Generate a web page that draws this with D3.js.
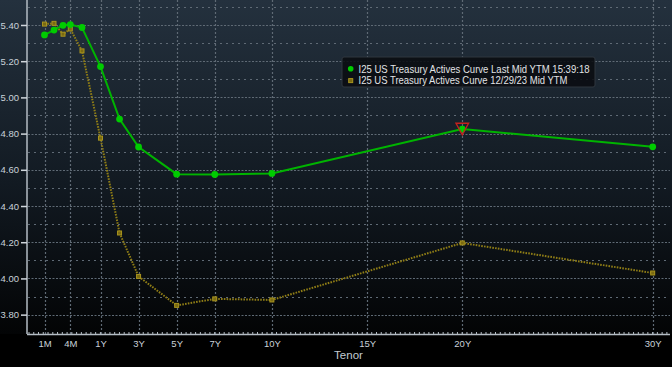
<!DOCTYPE html>
<html>
<head>
<meta charset="utf-8">
<script src="https://cdn.jsdelivr.net/npm/d3@7/dist/d3.min.js"></script>
<style>
  html, body { margin: 0; padding: 0; background: #000; }
  svg { display: block; }
  text { font-family: "Liberation Sans", Arial, sans-serif; }
</style>
</head>
<body>
<svg id="chart" width="672" height="367"></svg>
<script>
// ---- data ----
const tenors = ["1M","2M","3M","4M","6M","1Y","2Y","3Y","5Y","7Y","10Y","20Y","30Y"];
const tenorMonths = [1,2,3,4,6,12,24,36,60,84,120,240,360];
const currentYields = [5.345,5.372,5.398,5.402,5.386,5.170,4.880,4.726,4.576,4.574,4.580,4.825,4.727];
const priorYields   = [5.405,5.409,5.349,5.378,5.257,4.775,4.251,4.011,3.851,3.887,3.881,4.196,4.030];
const xTickLabels = ["1M","4M","1Y","3Y","5Y","7Y","10Y","15Y","20Y","30Y"];
const xTickMonths = [1,4,12,36,60,84,120,180,240,360];
const yTickValues = [3.80,4.00,4.20,4.40,4.60,4.80,5.00,5.20,5.40];
const yGridValues = [3.80,3.90,4.00,4.10,4.20,4.30,4.40,4.50,4.60,4.70,4.80,4.90,5.00,5.10,5.20,5.30,5.40,5.50];
const seriesNames = ["I25 US Treasury Actives Curve Last Mid YTM 15:39:18","I25 US Treasury Actives Curve 12/29/23 Mid YTM"];

// ---- layout ----
const W = 672, H = 367;
const plotLeft = 27, plotRight = 670, plotTop = 0, plotBottom = 334;

const svg = d3.select("#chart");

// background gradient
const defs = svg.append("defs");
const grad = defs.append("linearGradient").attr("id","bg").attr("x1",0).attr("y1",0).attr("x2",0).attr("y2",1);
grad.append("stop").attr("offset","0%").attr("stop-color","#24313e");
grad.append("stop").attr("offset","55%").attr("stop-color","#121a22");
grad.append("stop").attr("offset","100%").attr("stop-color","#030405");
svg.append("rect").attr("width",W).attr("height",H).attr("fill","#000");
svg.append("rect").attr("x",0).attr("y",0).attr("width",W).attr("height",plotBottom).attr("fill","url(#bg)");

// scales (piecewise: short end stretched, linear from 1Y onward)
const x = d3.scaleLinear()
  .domain([1,2,3,4,6,12,360])
  .range([44.5,54,63,70.3,82,100.5,652.7]);
const y = d3.scaleLinear().domain([3.693,5.538]).range([plotBottom, plotTop]);

// grid
const grid = svg.append("g");
grid.selectAll("line.h").data(yGridValues).enter().append("line")
  .attr("x1",plotLeft+1).attr("x2",plotRight)
  .attr("y1",d=>Math.round(y(d))+0.5).attr("y2",d=>Math.round(y(d))+0.5)
  .attr("stroke","#5f6a75").attr("stroke-width",1.2)
  .attr("stroke-dasharray",(d)=> (Math.round(d*10)%2===0) ? "2,1.5" : "2,4");
grid.selectAll("line.v").data(xTickMonths).enter().append("line")
  .attr("x1",d=>Math.round(x(d))+0.5).attr("x2",d=>Math.round(x(d))+0.5)
  .attr("y1",plotTop).attr("y2",plotBottom)
  .attr("stroke","#5f6a75").attr("stroke-width",1.2).attr("stroke-dasharray","2,2");

// axes
const axisColor = "#b4bcc4";
svg.append("line").attr("x1",plotLeft).attr("x2",plotLeft).attr("y1",0).attr("y2",plotBottom)
  .attr("stroke",axisColor).attr("stroke-width",1.5);
svg.append("line").attr("x1",plotLeft).attr("x2",plotRight).attr("y1",plotBottom+0.5).attr("y2",plotBottom+0.5)
  .attr("stroke",axisColor).attr("stroke-width",1.5);

// x minor ticks (quarter-year spacing)
const qStep = (x(360)-x(12))/(29*4);
const minor = d3.range(plotLeft+2, plotRight, qStep);
svg.append("g").selectAll("line").data(minor).enter().append("line")
  .attr("x1",d=>d).attr("x2",d=>d).attr("y1",plotBottom-2).attr("y2",plotBottom)
  .attr("stroke",axisColor).attr("stroke-width",1);

// y axis
const yAxis = d3.axisLeft(y).tickValues(yTickValues).tickFormat(d3.format(".2f")).tickSize(6).tickPadding(2);
const yg = svg.append("g").attr("transform",`translate(${plotLeft},0)`).call(yAxis);
yg.select(".domain").remove();
yg.selectAll(".tick line").attr("stroke","#d0d6dc").attr("stroke-width",1.5);
yg.selectAll(".tick text").attr("fill","#c9d1d9").style("font-size","9.5px");

// x axis
const xAxis = d3.axisBottom(x).tickValues(xTickMonths).tickFormat((d,i)=>xTickLabels[i]).tickSize(0).tickPadding(6);
const xg = svg.append("g").attr("transform",`translate(0,${plotBottom})`).call(xAxis);
xg.select(".domain").remove();
xg.selectAll(".tick text").attr("fill","#c9d1d9").style("font-size","9.5px");

svg.append("text").attr("x",348.5).attr("y",359).attr("text-anchor","middle")
  .attr("fill","#c2cad2").style("font-size","11.5px").text("Tenor");

// series
const idx = d3.range(tenors.length);
const lineGen = (vals)=> d3.line().x(i=>x(tenorMonths[i])).y(i=>y(vals[i]));

svg.append("path").datum(idx).attr("d",lineGen(priorYields))
  .attr("fill","none").attr("stroke","#8f7d16").attr("stroke-width",2).attr("stroke-dasharray","1.6,1.2");
svg.append("g").selectAll("rect").data(idx).enter().append("rect")
  .attr("x",i=>x(tenorMonths[i])-2).attr("y",i=>y(priorYields[i])-2)
  .attr("width",4).attr("height",4).attr("fill","#7a6a12").attr("stroke","#a8941e").attr("stroke-width",1);

svg.append("path").datum(idx).attr("d",lineGen(currentYields))
  .attr("fill","none").attr("stroke","#00b400").attr("stroke-width",2);
svg.append("g").selectAll("circle").data(idx).enter().append("circle")
  .attr("cx",i=>x(tenorMonths[i])).attr("cy",i=>y(currentYields[i])).attr("r",3.4)
  .attr("fill","#00cc00");

// red down triangle at 20Y
const ti = tenors.indexOf("20Y");
const tx = x(tenorMonths[ti]), ty = y(currentYields[ti]);
svg.append("path")
  .attr("d",`M${tx-6.3},${ty-5.8} L${tx+6.3},${ty-5.8} L${tx},${ty+5.7} Z`)
  .attr("fill","none").attr("stroke","#c4221e").attr("stroke-width",1.4);

// legend
const lg = svg.append("g");
lg.append("rect").attr("x",342).attr("y",57).attr("width",253).attr("height",30).attr("rx",2)
  .attr("fill","rgba(10,13,17,0.88)").attr("stroke","#2f363e").attr("stroke-width",1);
lg.append("circle").attr("cx",350.7).attr("cy",68.8).attr("r",2.8).attr("fill","#00cc00");
lg.append("rect").attr("x",348.7).attr("y",78.6).attr("width",4).attr("height",4)
  .attr("fill","#7a6a12").attr("stroke","#a8941e").attr("stroke-width",1);
lg.append("text").attr("x",358.5).attr("y",72.5).attr("fill","#e2e4e6").style("font-size","10.5px")
  .attr("textLength",231).attr("lengthAdjust","spacingAndGlyphs").text(seriesNames[0]);
lg.append("text").attr("x",358.5).attr("y",84.2).attr("fill","#e2e4e6").style("font-size","10.5px")
  .attr("textLength",209).attr("lengthAdjust","spacingAndGlyphs").text(seriesNames[1]);
</script>
</body>
</html>
